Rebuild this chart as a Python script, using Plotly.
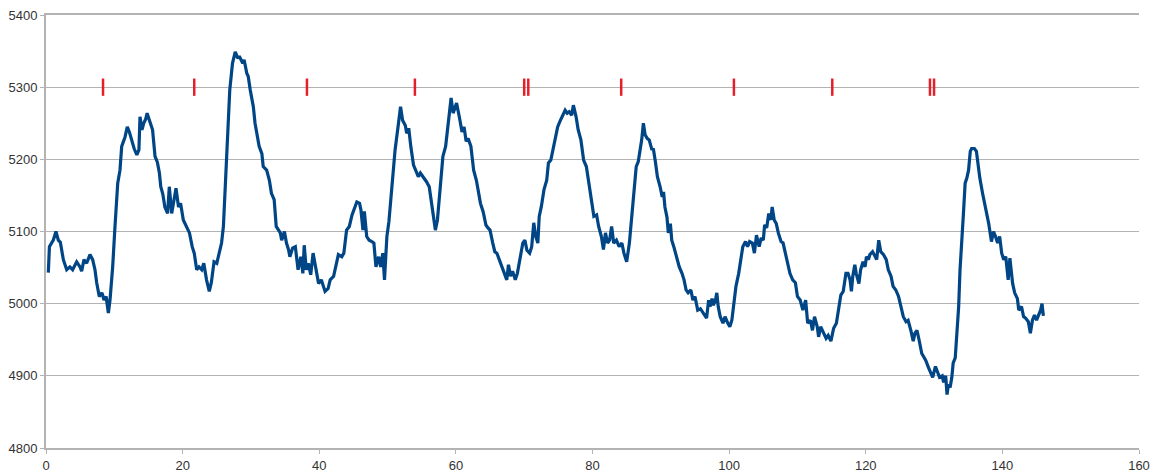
import plotly.graph_objects as go

# ---- series: blue line (x, value) ----
x1 = [0.34,0.5,1.07,1.46,1.8,2.1,2.54,3.03,3.5,3.9,4.49,4.98,5.22,5.56,5.95,6.44,6.83,7.17,7.42,7.8,8.2,8.49,8.8,9.13,9.37,9.76,10.1,10.5,10.83,11.08,11.57,11.9,12.2,12.5,12.9,13.3,13.6,13.76,14.05,14.3,14.6,14.8,15.2,15.6,15.96,16.3,16.6,16.8,17.1,17.4,17.8,18.05,18.4,18.7,19.03,19.4,19.7,20.1,20.6,21.0,21.4,21.7,22.06,22.4,22.8,23.1,23.5,23.9,24.2,24.6,25.0,25.4,25.7,25.97,26.2,26.55,26.9,27.3,27.7]
y1 = [5043,5079,5088,5100,5088,5085,5061,5047,5051,5047,5058,5051,5045,5061,5056,5068,5061,5047,5029,5010,5015,5005,5010,4987,5005,5051,5107,5167,5185,5218,5231,5245,5238,5227,5215,5206,5213,5259,5241,5250,5256,5264,5252,5241,5204,5196,5181,5162,5152,5134,5125,5162,5125,5139,5160,5134,5139,5116,5107,5098,5079,5070,5047,5051,5047,5056,5033,5017,5029,5058,5056,5070,5084,5107,5158,5236,5296,5333,5349]

x2 = [28.1,28.3,28.8,29.0,29.4,29.6,29.9,30.1,30.35,30.6,30.9,31.2,31.6,31.8,32.3,32.7,33.0,33.4,33.7,34.0,34.3,34.5,34.9,35.2,35.5,35.7,36.1,36.5,36.7,36.9,37.3,37.6,37.8,38.1,38.4,38.75,39.1,39.5,39.9,40.3,40.85,41.3,41.6,42.1,42.4,42.8,43.3,43.6,44.0,44.4,44.8,45.1,45.5,45.9,46.1,46.4,46.6,46.95,47.3,47.7,48.0,48.3,48.7,49.0,49.3,49.55,49.9,50.2,50.5,50.8,51.1,51.6,51.9,52.2,52.6,52.8,53.1,53.4,53.8,54.2,54.5]
y2 = [5340,5343,5333,5338,5319,5315,5296,5287,5273,5250,5234,5218,5208,5190,5185,5171,5153,5144,5107,5102,5098,5088,5100,5084,5075,5065,5077,5079,5061,5047,5065,5042,5081,5047,5056,5040,5070,5051,5028,5033,5017,5021,5033,5038,5051,5068,5065,5070,5102,5107,5123,5130,5141,5139,5130,5102,5128,5093,5088,5086,5084,5051,5065,5051,5070,5033,5093,5114,5144,5181,5213,5250,5273,5254,5247,5236,5243,5218,5192,5183,5176]

x3 = [54.8,55.2,55.7,56.1,56.5,56.7,57.0,57.3,57.6,57.9,58.1,58.5,58.75,59.0,59.3,59.6,59.9,60.1,60.5,60.9,61.2,61.5,61.8,62.2,62.6,63.0,63.3,63.6,64.0,64.4,64.7,65.0,65.4,65.7,66.0,66.5,66.9,67.2,67.45,67.7,68.0,68.3,68.7,69.0,69.4,69.8,70.1,70.4,70.8,71.1,71.4,71.7,72.0,72.2,72.5,72.9,73.3,73.55,73.9,74.2,74.5,74.9,75.2,75.65,76.0,76.3,76.6,76.95,77.2,77.6,77.9,78.3,78.7,79.1,79.4,79.75,80.0,80.2,80.6,80.9,81.3,81.6,81.9,82.2,82.5,82.8]
y3 = [5181,5176,5169,5162,5134,5121,5102,5116,5148,5190,5204,5218,5241,5259,5285,5264,5273,5278,5259,5238,5245,5225,5229,5218,5185,5171,5155,5139,5127,5109,5105,5102,5084,5072,5070,5058,5047,5042,5033,5054,5038,5045,5033,5042,5065,5084,5088,5074,5070,5079,5112,5093,5084,5121,5134,5158,5171,5195,5199,5213,5227,5245,5252,5261,5268,5264,5266,5261,5275,5259,5241,5227,5199,5190,5171,5148,5139,5121,5123,5107,5093,5075,5098,5084,5088,5107]

x4 = [83.1,83.5,83.9,84.3,84.6,85.0,85.4,85.75,86.1,86.4,86.7,86.97,87.2,87.45,87.7,88.0,88.3,88.7,88.9,89.2,89.5,89.9,90.2,90.4,90.6,90.9,91.1,91.4,91.6,91.9,92.3,92.7,93.1,93.4,93.7,94.0,94.4,94.7,95.0,95.4,95.8,96.2,96.5,96.7,97.0,97.2,97.5,97.7,98.0,98.2,98.4,98.7,99.1,99.4,99.8,100.1,100.4,100.7,101.0,101.4,101.7,102.0,102.4,102.7,103.0,103.4,103.7,104.0,104.4,104.7,105.0,105.2,105.5,105.8,106.1,106.3,106.6,106.9,107.2,107.6,107.9,108.2,108.55,108.9,109.3,109.7,110.0]
y4 = [5084,5088,5079,5084,5070,5058,5084,5125,5167,5190,5197,5213,5227,5250,5234,5229,5227,5213,5215,5197,5176,5162,5148,5155,5134,5120,5098,5111,5088,5079,5065,5051,5042,5033,5019,5015,5019,5005,5010,4991,4993,4987,4984,4980,5005,4996,5007,4998,5005,5015,4996,4982,4973,4982,4973,4968,4977,5005,5024,5042,5061,5079,5086,5079,5086,5084,5070,5095,5079,5091,5088,5109,5105,5125,5116,5134,5116,5111,5098,5086,5084,5070,5056,5042,5033,5029,5010]

x5 = [110.4,110.8,111.2,111.5,111.9,112.2,112.5,112.9,113.1,113.4,113.8,114.2,114.5,114.9,115.3,115.7,116.0,116.35,116.7,117.1,117.4,117.7,117.9,118.1,118.4,118.6,119.0,119.25,119.6,119.9,120.1,120.4,120.6,121.0,121.4,121.6,121.9,122.2,122.6,123.0,123.3,123.7,124.0,124.4,124.8,125.1,125.5,125.9,126.2,126.6,126.95,127.2,127.5,127.8,128.2,128.5,128.8,129.2,129.5,129.8,130.2,130.5,130.8,131.2,131.4,131.7,131.9,132.1,132.35,132.6,132.8,133.1,133.3,133.6,133.8,134.1,134.3,134.55,134.8,135.05,135.3,135.5,135.9,136.2,136.4,136.7,137.1,137.4,137.7,138.0,138.4,138.7,139.0,139.3,139.6,139.9,140.2,140.5,140.85,141.1,141.5,141.8,142.2,142.4,142.8,143.1,143.4,143.8,144.1,144.4,144.7,145.0,145.3,145.6,145.8,146.0]
y5 = [5005,4991,5005,4973,4977,4963,4982,4968,4954,4968,4959,4952,4956,4948,4966,4973,4991,5012,5017,5042,5042,5033,5017,5038,5054,5042,5028,5047,5058,5051,5065,5061,5068,5072,5065,5061,5088,5072,5068,5061,5047,5038,5024,5019,5010,4996,4982,4975,4977,4963,4948,4959,4963,4950,4931,4926,4921,4911,4904,4898,4913,4904,4898,4900,4891,4900,4874,4888,4884,4898,4918,4925,4954,4996,5047,5088,5125,5167,5174,5185,5211,5215,5215,5211,5195,5174,5153,5139,5121,5111,5086,5100,5093,5084,5093,5070,5061,5065,5033,5063,5028,5015,5007,4991,4996,4982,4980,4975,4959,4977,4984,4977,4984,4991,5000,4983]

# ---- red event markers ----
marker_x = [8.35, 21.7, 38.2, 54.0, 70.0, 70.6, 84.2, 100.7, 115.1, 129.4, 130.0]
marker_low = 5288
marker_high = 5312

# ---- axes ----
x_ticks = [0, 20, 40, 60, 80, 100, 120, 140, 160]
y_ticks = [4800, 4900, 5000, 5100, 5200, 5300, 5400]

for a, b in [(x1, y1), (x2, y2), (x3, y3), (x4, y4), (x5, y5)]:
    assert len(a) == len(b), (len(a), len(b), a[0])

line_x = x1 + x2 + x3 + x4 + x5
line_y = y1 + y2 + y3 + y4 + y5

mx, my = [], []
for v in marker_x:
    mx += [v, v, None]
    my += [marker_low, marker_high, None]

fig = go.Figure()
fig.add_trace(go.Scatter(x=line_x, y=line_y, mode="lines",
                         line=dict(color="#004586", width=3.2), hoverinfo="skip"))
fig.add_trace(go.Scatter(x=mx, y=my, mode="lines",
                         line=dict(color="#e3202a", width=2.5), hoverinfo="skip"))

axis_common = dict(showline=True, linecolor="#b3b3b3", linewidth=2, automargin=False,
                   ticks="outside", ticklen=4, tickcolor="#b3b3b3", tickwidth=1,
                   zeroline=False, tickfont=dict(family="Liberation Sans", size=13, color="#333333"))

fig.update_layout(
    width=1151, height=473,
    margin=dict(l=46, r=12, t=15, b=25),
    paper_bgcolor="white", plot_bgcolor="white",
    showlegend=False,
    xaxis=dict(range=[0, 160], tickvals=x_ticks, showgrid=False, mirror=True, **axis_common),
    yaxis=dict(range=[4800, 5400], tickvals=y_ticks, showgrid=True, gridcolor="#b3b3b3",
               gridwidth=1, **axis_common),
)
fig.write_html("out.html", config={"displayModeBar": False},
               post_script="document.body.style.margin='0';document.body.style.overflow='hidden';")
